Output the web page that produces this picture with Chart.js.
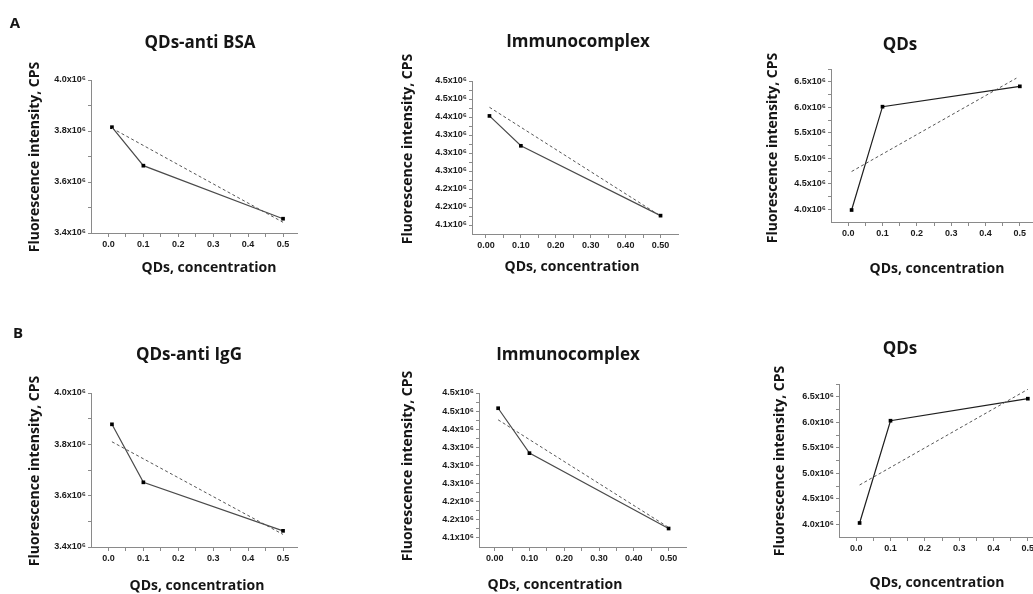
<!DOCTYPE html>
<html>
<head>
<meta charset="utf-8">
<script src="https://cdn.jsdelivr.net/npm/chart.js@4.4.1/dist/chart.umd.min.js"></script>
<style>
  html, body { margin: 0; padding: 0; background: #fff; overflow: hidden; }
  #wrap { position: relative; width: 1033px; height: 594px; overflow: hidden; background: #fff; }
  canvas { position: absolute; left: 0; top: 0; }
</style>
</head>
<body>
<div id="wrap"></div>
<script>
// QDs concentration (x of every panel)
const conc = [0.01, 0.1, 0.5];

// row A (anti BSA)
const bsaConjugate = [3.815e6, 3.664e6, 3.456e6];
const bsaComplex = [4.403e6, 4.320e6, 4.126e6];
const bsaQDs = [3.985e6, 6.011e6, 6.41e6];
// row B (anti IgG)
const iggConjugate = [3.878e6, 3.652e6, 3.463e6];
const iggComplex = [4.458e6, 4.334e6, 4.126e6];
const iggQDs = [4.025e6, 6.03e6, 6.462e6];

// dashed linear fits, end points
const fitX = [0.01, 0.5];
const fitXQDsA = [0.01, 0.49];
const bsaConjugateFit = [3.811e6, 3.442e6];
const bsaComplexFit = [4.427e6, 4.125e6];
const bsaQDsFit = [4.74e6, 6.57e6];
const iggConjugateFit = [3.810e6, 3.449e6];
const iggComplexFit = [4.426e6, 4.129e6];
const iggQDsFit = [4.77e6, 6.645e6];

// ticks
const xTickValues = [0, 0.05, 0.1, 0.15, 0.2, 0.25, 0.3, 0.35, 0.4, 0.45, 0.5];
const xTickLabels1 = ['0.0', '', '0.1', '', '0.2', '', '0.3', '', '0.4', '', '0.5'];
const xTickLabels2 = ['0.00', '', '0.10', '', '0.20', '', '0.30', '', '0.40', '', '0.50'];

const yConjTicks = [3.4e6, 3.5e6, 3.6e6, 3.7e6, 3.8e6, 3.9e6, 4.0e6];
const yConjLabels = ['3.4x10⁶', '', '3.6x10⁶', '', '3.8x10⁶', '', '4.0x10⁶'];
const yComplexTicks = [4.1e6, 4.125e6, 4.15e6, 4.175e6, 4.2e6, 4.225e6, 4.25e6, 4.275e6, 4.3e6,
  4.325e6, 4.35e6, 4.375e6, 4.4e6, 4.425e6, 4.45e6, 4.475e6, 4.5e6];
const yComplexLabels = ['4.1x10⁶', '', '4.2x10⁶', '', '4.2x10⁶', '', '4.3x10⁶', '', '4.3x10⁶',
  '', '4.3x10⁶', '', '4.4x10⁶', '', '4.5x10⁶', '', '4.5x10⁶'];
const yQDsTicks = [4.0e6, 4.25e6, 4.5e6, 4.75e6, 5.0e6, 5.25e6, 5.5e6, 5.75e6, 6.0e6, 6.25e6, 6.5e6, 6.75e6];
const yQDsLabels = ['4.0x10⁶', '', '4.5x10⁶', '', '5.0x10⁶', '', '5.5x10⁶', '', '6.0x10⁶', '', '6.5x10⁶', ''];

const CW = 1060, CH = 594;
const yAxisW = 60, xAxisH = 20;
const axisColor = '#8a8a8a';
const tickFont = { family: 'Arial, "Liberation Sans", sans-serif', size: 9, weight: 'bold' };

// draws panel title, axis titles and the A / B letters
const panelText = {
  id: 'panelText',
  afterDraw(chart, args, o) {
    const ctx = chart.ctx;
    ctx.save();
    ctx.fillStyle = '#151515';
    ctx.textAlign = 'center';
    ctx.textBaseline = 'middle';
    ctx.font = 'bold 17px "Open Sans"';
    ctx.fillText(o.title, o.titlePos[0], o.titlePos[1]);
    ctx.font = 'bold 14px "Open Sans"';
    ctx.fillText('QDs, concentration', o.xTitlePos[0], o.xTitlePos[1]);
    ctx.save();
    ctx.translate(o.yTitlePos[0], o.yTitlePos[1]);
    ctx.rotate(-Math.PI / 2);
    ctx.fillText('Fluorescence intensity, CPS', 0, 0);
    ctx.restore();
    if (o.letter) {
      ctx.font = 'bold 15px "Open Sans"';
      ctx.fillText(o.letter, o.letterPos[0], o.letterPos[1]);
    }
    ctx.restore();
  }
};

const panels = [
  { title: 'QDs-anti BSA', values: bsaConjugate, fitX: fitX, fit: bsaConjugateFit,
    area: [91, 80, 297, 233], xMin: -0.05, xMax: 0.54, yMin: 3.4e6, yMax: 4.0e6,
    xLabels: xTickLabels1, yTicks: yConjTicks, yLabels: yConjLabels, line: '#4a4a4a',
    titlePos: [200, 43], yTitlePos: [35, 157], xTitlePos: [209, 268], letter: 'A', letterPos: [15, 24] },
  { title: 'Immunocomplex', values: bsaComplex, fitX: fitX, fit: bsaComplexFit,
    area: [472, 81, 678, 234], xMin: -0.04, xMax: 0.55, yMin: 4.075e6, yMax: 4.5e6,
    xLabels: xTickLabels2, yTicks: yComplexTicks, yLabels: yComplexLabels, line: '#4a4a4a',
    titlePos: [578, 42], yTitlePos: [408, 149], xTitlePos: [572, 267] },
  { title: 'QDs', values: bsaQDs, fitX: fitXQDsA, fit: bsaQDsFit,
    area: [831, 69, 1037, 222], xMin: -0.05, xMax: 0.55, yMin: 3.75e6, yMax: 6.75e6,
    xLabels: xTickLabels1, yTicks: yQDsTicks, yLabels: yQDsLabels, line: '#1e1e1e',
    titlePos: [900, 45], yTitlePos: [773, 148], xTitlePos: [937, 269] },
  { title: 'QDs-anti IgG', values: iggConjugate, fitX: fitX, fit: iggConjugateFit,
    area: [91, 393, 297, 547], xMin: -0.05, xMax: 0.54, yMin: 3.4e6, yMax: 4.0e6,
    xLabels: xTickLabels1, yTicks: yConjTicks, yLabels: yConjLabels, line: '#4a4a4a',
    titlePos: [189, 355], yTitlePos: [35, 471], xTitlePos: [197, 586], letter: 'B', letterPos: [18, 334] },
  { title: 'Immunocomplex', values: iggComplex, fitX: fitX, fit: iggComplexFit,
    area: [479, 393, 686, 547], xMin: -0.045, xMax: 0.55, yMin: 4.075e6, yMax: 4.5e6,
    xLabels: xTickLabels2, yTicks: yComplexTicks, yLabels: yComplexLabels, line: '#4a4a4a',
    titlePos: [568, 355], yTitlePos: [408, 466], xTitlePos: [555, 585] },
  { title: 'QDs', values: iggQDs, fitX: fitX, fit: iggQDsFit,
    area: [839, 384, 1045, 537], xMin: -0.05, xMax: 0.55, yMin: 3.75e6, yMax: 6.75e6,
    xLabels: xTickLabels1, yTicks: yQDsTicks, yLabels: yQDsLabels, line: '#1e1e1e',
    titlePos: [900, 349], yTitlePos: [780, 461], xTitlePos: [937, 583] }
];

panels.forEach(function (p) {
  const canvas = document.createElement('canvas');
  canvas.width = CW;
  canvas.height = CH;
  document.getElementById('wrap').appendChild(canvas);

  new Chart(canvas, {
    type: 'scatter',
    data: {
      datasets: [
        {
          data: p.fitX.map((x, i) => ({ x: x, y: p.fit[i] })),
          showLine: true,
          borderColor: '#555',
          borderWidth: 1,
          borderDash: [3, 2.5],
          pointRadius: 0
        },
        {
          data: conc.map((x, i) => ({ x: x, y: p.values[i] })),
          showLine: true,
          borderColor: p.line,
          borderWidth: 1.2,
          pointStyle: 'rect',
          pointRadius: 2.6,
          pointBackgroundColor: '#000',
          pointBorderColor: '#000',
          pointBorderWidth: 0
        }
      ]
    },
    options: {
      responsive: false,
      animation: false,
      events: [],
      layout: {
        padding: {
          left: p.area[0] - yAxisW,
          top: p.area[1],
          right: CW - p.area[2],
          bottom: CH - p.area[3] - xAxisH
        }
      },
      plugins: {
        legend: { display: false },
        tooltip: { enabled: false },
        panelText: {
          title: p.title,
          titlePos: p.titlePos,
          yTitlePos: p.yTitlePos,
          xTitlePos: p.xTitlePos,
          letter: p.letter,
          letterPos: p.letterPos
        }
      },
      scales: {
        x: {
          type: 'linear',
          min: p.xMin,
          max: p.xMax,
          afterFit: (s) => { s.height = xAxisH; },
          afterBuildTicks: (s) => { s.ticks = xTickValues.map(v => ({ value: v })); },
          ticks: {
            callback: (v, i) => p.xLabels[i],
            autoSkip: false,
            maxRotation: 0,
            minRotation: 0,
            padding: 2,
            color: '#1a1a1a',
            font: tickFont
          },
          grid: { drawOnChartArea: false, tickLength: 4, tickColor: axisColor },
          border: { color: axisColor, width: 1 }
        },
        y: {
          type: 'linear',
          min: p.yMin,
          max: p.yMax,
          afterFit: (s) => { s.width = yAxisW; },
          afterBuildTicks: (s) => { s.ticks = p.yTicks.map(v => ({ value: v })); },
          ticks: {
            callback: (v, i) => p.yLabels[i],
            autoSkip: false,
            padding: 2,
            color: '#1a1a1a',
            font: tickFont
          },
          grid: { drawOnChartArea: false, tickLength: 3, tickColor: axisColor },
          border: { color: axisColor, width: 1 }
        }
      }
    },
    plugins: [panelText]
  });
});
</script>
</body>
</html>
